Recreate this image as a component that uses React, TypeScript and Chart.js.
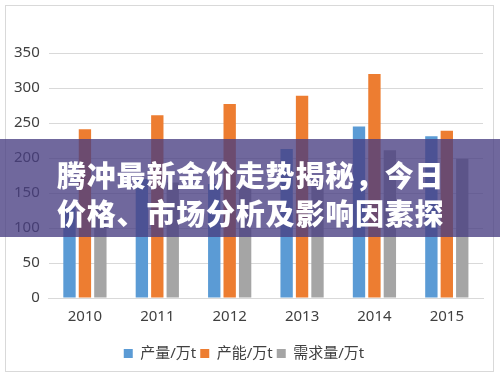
import React, { useEffect, useRef } from "react";
import { Chart, registerables } from "chart.js";

Chart.register(...registerables);

const years = ["2010", "2011", "2012", "2013", "2014", "2015"];
const output = [130, 170, 163, 213, 245, 231];
const capacity = [241, 261, 277, 289, 320, 239];
const demand = [128, 165, 160, 170, 211, 199];
const seriesNames = ["产量/万t", "产能/万t", "需求量/万t"];
const yTicks = [0, 50, 100, 150, 200, 250, 300, 350];
const titleLines = ["腾冲最新金价走势揭秘，今日", "价格、市场分析及影响因素探"];

const FONT = "'Noto Sans', 'Noto Sans CJK SC', sans-serif";

export default function App() {
  const ref = useRef<HTMLCanvasElement | null>(null);
  useEffect(() => {
    if (!ref.current) return;
    const chart = new Chart(ref.current, {
      type: "bar",
      data: {
        labels: years,
        datasets: [
          { label: seriesNames[0], data: output, backgroundColor: "#5b9bd5" },
          { label: seriesNames[1], data: capacity, backgroundColor: "#ed7d31" },
          { label: seriesNames[2], data: demand, backgroundColor: "#a5a5a5" },
        ],
      },
      options: {
        animation: false,
        responsive: false,
        maintainAspectRatio: false,
        layout: { padding: { top: 48, left: 0, right: 12, bottom: 2 } },
        datasets: { bar: { categoryPercentage: 0.64, barPercentage: 0.8 } } as any,
        scales: {
          x: {
            grid: { display: false },
            border: { display: true, color: "#d9d9d9" },
            ticks: { color: "#404040", font: { size: 15, family: FONT }, padding: 2 },
            afterFit: (scale: any) => {
              scale.height += 14;
            },
          },
          y: {
            min: 0,
            max: 350,
            afterBuildTicks: (axis: any) => {
              axis.ticks = yTicks.map((v) => ({ value: v }));
            },
            grid: { color: "#d9d9d9", drawTicks: false },
            border: { display: false },
            ticks: { color: "#404040", font: { size: 15, family: FONT }, padding: 9 },
          },
        },
        plugins: {
          legend: {
            position: "bottom",
            labels: {
              boxWidth: 9,
              boxHeight: 9,
              color: "#404040",
              font: { size: 15, family: FONT },
              padding: 4,
            },
          },
          tooltip: { enabled: false },
        },
      },
    });
    return () => chart.destroy();
  }, []);

  return (
    <div style={{ position: "fixed", left: 0, top: 0, width: 500, height: 377, background: "#ffffff", overflow: "hidden" }}>
      <div style={{ position: "absolute", left: 5, top: 5, width: 489, height: 367, border: "1px solid #d9d9d9", boxSizing: "border-box" }} />
      <canvas ref={ref} width={490} height={368} style={{ position: "absolute", left: 5, top: 5 }} />
      <div
        style={{
          position: "absolute",
          left: 0,
          top: 139,
          width: 500,
          height: 98,
          background: "rgba(72, 62, 130, 0.78)",
          color: "#ffffff",
          fontFamily: "'Noto Sans CJK SC', sans-serif",
          fontWeight: 900,
          fontSize: 29,
          lineHeight: "38px",
          paddingLeft: 57,
          paddingTop: 16,
          boxSizing: "border-box",
          letterSpacing: 0.8,
        }}
      >
        {titleLines.map((l, i) => (
          <div key={i} style={{ whiteSpace: "nowrap" }}>{l}</div>
        ))}
      </div>
    </div>
  );
}
